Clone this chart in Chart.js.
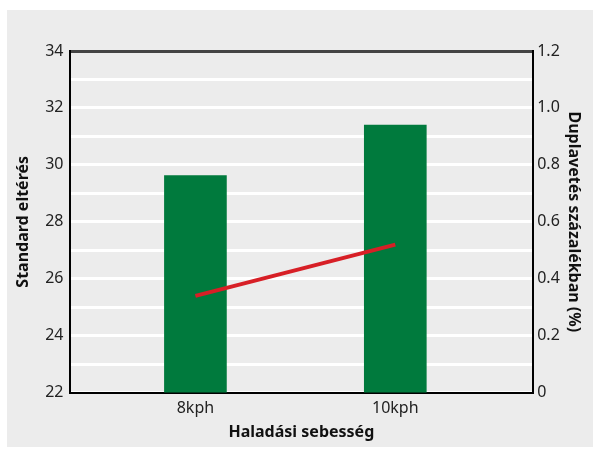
<!DOCTYPE html>
<html>
<head>
<meta charset="utf-8">
<script src="https://cdn.jsdelivr.net/npm/chart.js@4"></script>
<style>
  body { margin: 0; background: #fff; }
  #panel { position: absolute; left: 7px; top: 10px; width: 586px; height: 437px; background: #ececec; }
</style>
</head>
<body>
<div id="panel"><canvas id="myChart" width="586" height="437"></canvas></div>
<script>
// data
const categories = ['8kph', '10kph'];
const stdDev = [29.62, 31.4];          // bars, left axis
const duplicatePct = [0.34, 0.52];     // line, right axis
const leftTicks = [22, 24, 26, 28, 30, 32, 34];
const rightTicks = [0, 0.2, 0.4, 0.6, 0.8, 1.0, 1.2];

const catPos = categories.map((c, i) => i + 1);

function chartAdd() {
    new Chart('myChart', {
        data: {
            datasets: [{
                type: 'line',
                data: catPos.map((x, i) => ({ x: x, y: duplicatePct[i] })),
                yAxisID: 'y1',
                borderColor: '#d71f26',
                borderWidth: 4,
                pointRadius: 0,
                fill: false,
                order: 0
            }, {
                type: 'bar',
                data: catPos.map((x, i) => ({ x: x, y: stdDev[i] })),
                yAxisID: 'y',
                backgroundColor: '#007a3d',
                barThickness: 62,
                order: 1
            }]
        },
        options: {
            responsive: false,
            animation: false,
            layout: { padding: { top: 41, right: 6, bottom: 5, left: 7 } },
            plugins: { legend: { display: false }, tooltip: { enabled: false } },
            scales: {
                x: {
                    type: 'linear',
                    offset: false,
                    min: 0.37,
                    max: 2.69,
                    afterBuildTicks: axis => { axis.ticks = catPos.map(v => ({ value: v })); },
                    ticks: {
                        callback: v => categories[v - 1],
                        color: '#222',
                        font: { family: 'Noto Sans', size: 16 },
                        padding: -2
                    },
                    grid: { display: false },
                    border: { color: '#000', width: 2 },
                    title: {
                        display: true,
                        text: 'Haladási sebesség',
                        color: '#111',
                        font: { family: 'Noto Sans', size: 16, weight: 'bold' },
                        padding: { top: 7, bottom: 0 }
                    }
                },
                y: {
                    position: 'left',
                    min: 22,
                    max: 34,
                    ticks: {
                        stepSize: 1,
                        autoSkip: false,
                        callback: v => leftTicks.includes(v) ? String(v) : ' ',
                        color: '#222',
                        font: { family: 'Noto Sans', size: 16 },
                        padding: 6
                    },
                    grid: {
                        color: ctx => ctx.tick && ctx.tick.value === 34 ? '#444' : '#ffffff',
                        lineWidth: 3,
                        drawTicks: false
                    },
                    border: { color: '#000', width: 2 },
                    title: {
                        display: true,
                        text: 'Standard eltérés',
                        color: '#111',
                        font: { family: 'Noto Sans', size: 16, weight: 'bold' },
                        padding: { top: 0, bottom: 6 }
                    }
                },
                y1: {
                    position: 'right',
                    min: 0,
                    max: 1.2,
                    afterBuildTicks: axis => { axis.ticks = rightTicks.map(v => ({ value: v })); },
                    ticks: {
                        callback: v => v === 0 ? '0' : v.toFixed(1),
                        color: '#222',
                        font: { family: 'Noto Sans', size: 16 },
                        padding: 4
                    },
                    grid: { display: false, drawTicks: false },
                    border: { color: '#000', width: 2 },
                    title: {
                        display: true,
                        text: 'Duplavetés százalékban (%)',
                        color: '#111',
                        font: { family: 'Noto Sans', size: 16, weight: 'bold' },
                        padding: { top: 4, bottom: 0 }
                    }
                }
            }
        }
    });
}

chartAdd();
</script>
</body>
</html>
